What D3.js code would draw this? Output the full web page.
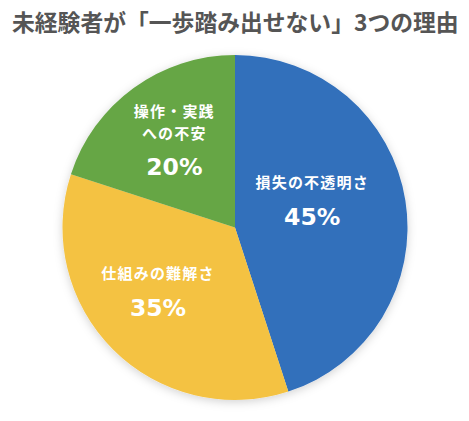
<!DOCTYPE html>
<html><head><meta charset="utf-8">
<script src="https://cdn.jsdelivr.net/npm/d3@7"></script>
<style>body{margin:0;background:#fff;}</style>
</head><body>
<script>
const categories = ["損失の不透明さ", "仕組みの難解さ", "操作・実践への不安"];
const labelLines = [["損失の不透明さ"], ["仕組みの難解さ"], ["操作・実践", "への不安"]];
const values = [45, 35, 20];
const colors = ["#306fbb", "#f4c242", "#66a645"];
const title = "未経験者が「一歩踏み出せない」3つの理由";

const W = 469, H = 421;
const svg = d3.select("body").append("svg").attr("width", W).attr("height", H);
const defs = svg.append("defs");
const f = defs.append("filter").attr("id","sh").attr("x","-20%").attr("y","-20%").attr("width","140%").attr("height","140%");
f.append("feDropShadow").attr("dx",0).attr("dy",2).attr("stdDeviation",5).attr("flood-color","#000").attr("flood-opacity",0.18);

svg.append("text").attr("x", 12).attr("y", 31)
  .attr("font-family", "'Noto Sans CJK JP', sans-serif").attr("font-weight", 700)
  .attr("font-size", 22.8).attr("fill", "#555").text(title);

const cx = 235, cy = 227.5, R = 172.5;
const g = svg.append("g").attr("transform", `translate(${cx},${cy})`);
const pie = d3.pie().sort(null).value(d => d);
const arcs = pie(values);
const arc = d3.arc().innerRadius(0).outerRadius(R);
const gs = g.append("g").attr("filter","url(#sh)");
gs.selectAll("path").data(arcs).join("path").attr("d", arc).attr("fill", (d,i)=>colors[i]);

const labelArc = d3.arc().innerRadius(R*0.5).outerRadius(R*0.5);
// label nudges relative to the slice centroid
const nudges = [[-8,-26],[-16,-9],[-10,-40.5]];
const lineGap = 22;
arcs.forEach((d,i)=>{
  const [x,y] = labelArc.centroid(d);
  const lines = labelLines[i];
  const lg = g.append("g").attr("transform", `translate(${x+nudges[i][0]},${y+nudges[i][1]})`);
  const n = lines.length;
  lines.forEach((l,j)=>{
    lg.append("text").attr("x",0).attr("y", j*lineGap).attr("text-anchor","middle")
      .attr("font-family","'Noto Sans CJK JP', sans-serif").attr("font-weight",700)
      .attr("font-size",15).attr("letter-spacing",1.2).attr("fill","#fff").text(l);
  });
  lg.append("text").attr("x",0).attr("y", (n-1)*21 + 37).attr("text-anchor","middle")
    .attr("font-family","'DejaVu Sans', sans-serif").attr("font-weight",700)
    .attr("font-size",23.5).attr("fill","#fff").text(values[i] + "%");
});
</script>
</body></html>
